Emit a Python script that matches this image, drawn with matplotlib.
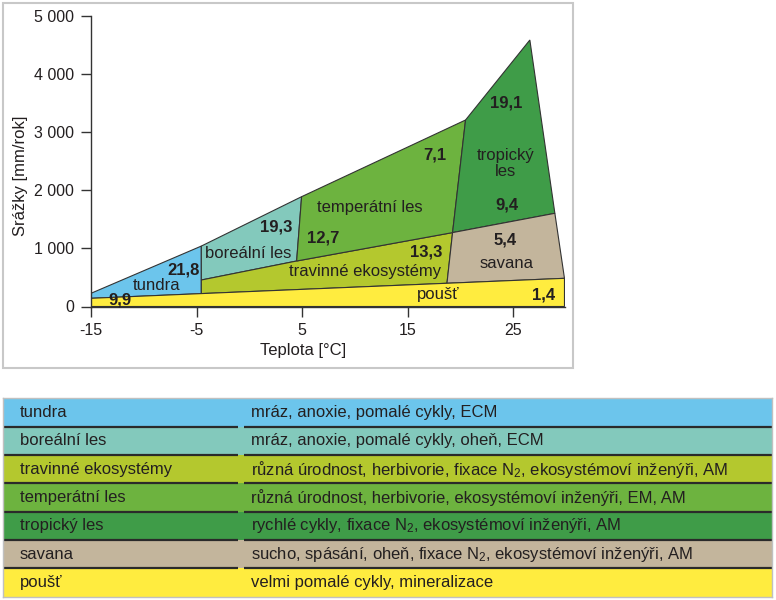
import matplotlib
matplotlib.use("Agg")
import matplotlib.pyplot as plt
from matplotlib.patches import Polygon, Rectangle

plt.rcParams['font.family'] = ['Liberation Sans', 'DejaVu Sans']
plt.rcParams['mathtext.default'] = 'regular'

# biome polygons: temperature [°C] and precipitation [mm/rok]
tundra_t = [-15, -15, -4.55, -4.55]
tundra_p = [141, 227, 1040, 222]
boreal_t = [-4.55, -4.55, 4.95, 4.48]
boreal_p = [456, 1040, 1890, 783]
grass_t = [-4.55, -4.55, 4.48, 19.25, 18.72]
grass_p = [222, 456, 783, 1272, 400]
temper_t = [4.48, 4.95, 20.48, 19.25]
temper_p = [783, 1890, 3210, 1272]
tropic_t = [19.25, 20.48, 26.57, 28.94]
tropic_p = [1272, 3210, 4587, 1604]
savana_t = [18.72, 19.25, 28.94, 29.85]
savana_p = [400, 1272, 1604, 485]
desert_t = [-15, -15, -4.55, 18.72, 29.85, 29.85]
desert_p = [0, 141, 222, 400, 485, 0]

colors = ["#6cc5ec", "#83c9bc", "#b4c82e", "#6db33f", "#3f9c48", "#c3b59c", "#ffec3f"]

# labels in the chart
names = ["tundra", "boreální les", "travinné ekosystémy", "temperátní les",
         "tropický\nles", "savana", "poušť"]
name_x = [-8.8, -0.1, 10.95, 11.4, 24.3, 24.4, 17.9]
name_y = [370, 904, 611, 1712, 2465, 744, 198]
nums = ["9,9", "21,8", "19,3", "12,7", "7,1", "13,3", "19,1", "9,4", "5,4", "1,4"]
num_x = [-12.25, -6.26, 2.58, 7.0, 17.58, 16.79, 24.36, 24.4, 24.2, 27.83]
num_y = [112, 628, 1373, 1174, 2608, 943, 3497, 1747, 1145, 198]

xticks = [-15, -5, 5, 15, 25]
yticks = [0, 1000, 2000, 3000, 4000, 5000]
ytick_labels = ["0", "1 000", "2 000", "3 000", "4 000", "5 000"]

# table
rows = ["tundra", "boreální les", "travinné ekosystémy", "temperátní les",
        "tropický les", "savana", "poušť"]
descs = ["mráz, anoxie, pomalé cykly, ECM",
         "mráz, anoxie, pomalé cykly, oheň, ECM",
         "různá úrodnost, herbivorie, fixace N$_2$, ekosystémoví inženýři, AM",
         "různá úrodnost, herbivorie, ekosystémoví inženýři, EM, AM",
         "rychlé cykly, fixace N$_2$, ekosystémoví inženýři, AM",
         "sucho, spásání, oheň, fixace N$_2$, ekosystémoví inženýři, AM",
         "velmi pomalé cykly, mineralizace"]

txt = "#231f20"
fig = plt.figure(figsize=(7.76, 6.0), dpi=100)

# gray frame around the chart
fig.patches.append(Rectangle((3 / 776, 1 - 368 / 600), 570 / 776, 365 / 600,
                             transform=fig.transFigure, fill=False,
                             edgecolor="#c8c8c8", linewidth=1.5))

ax = fig.add_axes([91 / 776, 293.5 / 600, 474 / 776, 290.5 / 600])
polys = [(tundra_t, tundra_p), (boreal_t, boreal_p), (grass_t, grass_p),
         (temper_t, temper_p), (tropic_t, tropic_p), (savana_t, savana_p),
         (desert_t, desert_p)]
for (xs, ys), c in zip(polys, colors):
    ax.add_patch(Polygon(list(zip(xs, ys)), closed=True, facecolor=c,
                         edgecolor="#333333", linewidth=0.8))

for s, x, y in zip(names, name_x, name_y):
    ax.text(x, y, s, ha="center", va="center", fontsize=12, color=txt,
            linespacing=1.05)
for s, x, y in zip(nums, num_x, num_y):
    ax.text(x, y, s, ha="center", va="center", fontsize=12,
            fontweight="bold", color=txt)

ax.set_xlim(-15, 29.9)
ax.set_ylim(0, 5000)
ax.set_xticks(xticks)
ax.set_xticklabels([str(v) for v in xticks])
ax.set_yticks(yticks)
ax.set_yticklabels(ytick_labels)
ax.tick_params(direction="out", length=7, width=1, colors="#333333",
               labelcolor=txt, labelsize=11.5)
ax.tick_params(axis="x", pad=5)
ax.tick_params(axis="y", pad=5)
for side in ["top", "right"]:
    ax.spines[side].set_visible(False)
for side in ["left", "bottom"]:
    ax.spines[side].set_color("#333333")
    ax.spines[side].set_linewidth(1)
ax.set_xlabel("Teplota [°C]", fontsize=12, color=txt)
ax.set_ylabel("Srážky [mm/rok]", fontsize=12, color=txt)
ax.xaxis.set_label_coords(0.447, -0.127)
ax.yaxis.set_label_coords(-0.133, 0.449)

# table below
tab = fig.add_axes([3 / 776, 3.3 / 600, 769 / 776, 198.4 / 600])
n = len(rows)
tab.barh(range(n), 1, left=0, height=1, color=colors, linewidth=0)
tab.set_xlim(0, 1)
tab.set_ylim(n - 0.5, -0.5)
col1_end = 0.305
col2_start = 0.314
for i in range(n - 1):
    tab.hlines(i + 0.5, 0, col1_end, color="#2a2a2a", linewidth=1.6)
    tab.hlines(i + 0.5, col2_start, 1, color="#2a2a2a", linewidth=1.6)
for i in range(n):
    tab.text(0.022, i, rows[i], ha="left", va="center", fontsize=12, color=txt)
    tab.text(0.322, i, descs[i], ha="left", va="center", fontsize=12, color=txt)
tab.set_xticks([])
tab.set_yticks([])
for sp in tab.spines.values():
    sp.set_color("#c0c0c0")
    sp.set_linewidth(1)

fig.savefig("out.png", dpi=100)
